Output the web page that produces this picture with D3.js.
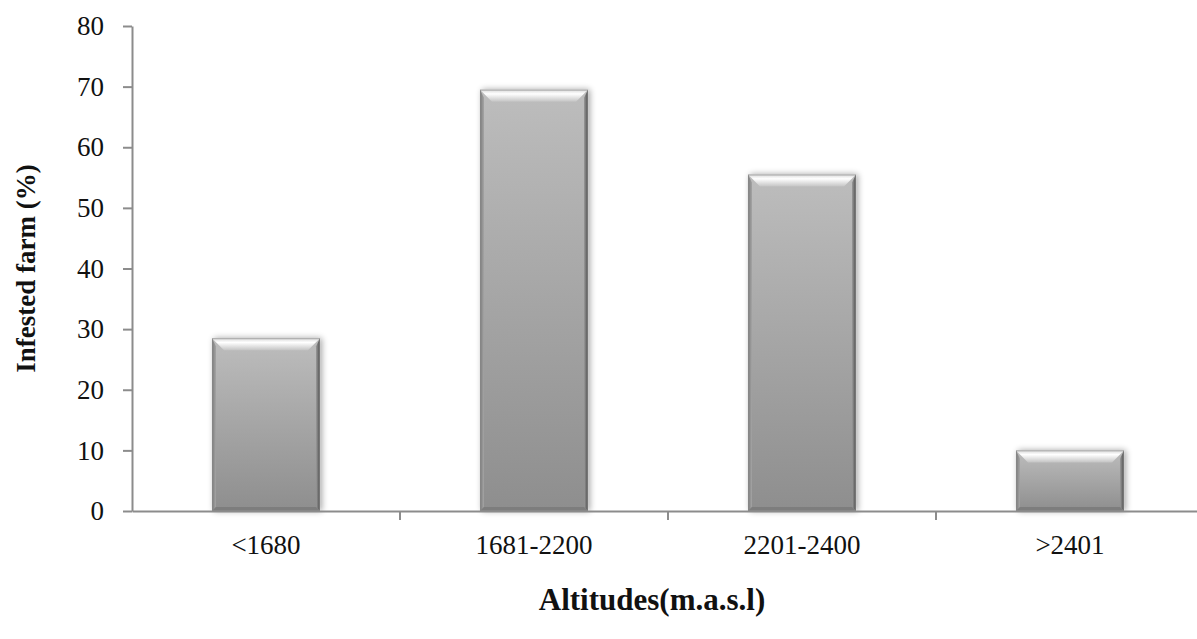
<!DOCTYPE html>
<html>
<head>
<meta charset="utf-8">
<script src="https://cdn.jsdelivr.net/npm/d3@7"></script>
<style>
  html, body { margin: 0; padding: 0; background: #fff; }
  svg { display: block; }
</style>
</head>
<body>
<svg id="chart" width="1197" height="639"></svg>
<script>
const categories = ["<1680", "1681-2200", "2201-2400", ">2401"];
const values = [28.5, 69.5, 55.5, 10.0];
const yTicks = [0, 10, 20, 30, 40, 50, 60, 70, 80];
const yTitle = "Infested farm (%)";
const xTitle = "Altitudes(m.a.s.l)";

const svg = d3.select("#chart");
const margin = {left: 132, top: 26, bottom: 511, right: 1204};
const serif = "'Liberation Serif', 'Times New Roman', serif";

const x = d3.scaleBand().domain(categories).range([margin.left, margin.right])
  .paddingInner(0.597).paddingOuter(0.2985);
const y = d3.scaleLinear().domain([0, 80]).range([margin.bottom, margin.top]);

const defs = svg.append("defs");
const grad = defs.append("linearGradient").attr("id", "barGrad").attr("x1", 0).attr("y1", 0).attr("x2", 0).attr("y2", 1);
grad.append("stop").attr("offset", "0%").attr("stop-color", "#bdbdbd");
grad.append("stop").attr("offset", "100%").attr("stop-color", "#8e8e8e");
const topGrad = defs.append("linearGradient").attr("id", "topGrad").attr("x1", 0).attr("y1", 0).attr("x2", 0).attr("y2", 1);
topGrad.append("stop").attr("offset", "0%").attr("stop-color", "#d8d8d8");
topGrad.append("stop").attr("offset", "35%").attr("stop-color", "#ffffff");
topGrad.append("stop").attr("offset", "100%").attr("stop-color", "#c4c4c4");
const leftGrad = defs.append("linearGradient").attr("id", "leftGrad").attr("x1", 0).attr("y1", 0).attr("x2", 1).attr("y2", 0);
leftGrad.append("stop").attr("offset", "0%").attr("stop-color", "#7a7a7a");
leftGrad.append("stop").attr("offset", "100%").attr("stop-color", "#a5a5a5");
const rightGrad = defs.append("linearGradient").attr("id", "rightGrad").attr("x1", 0).attr("y1", 0).attr("x2", 1).attr("y2", 0);
rightGrad.append("stop").attr("offset", "0%").attr("stop-color", "#9a9a9a");
rightGrad.append("stop").attr("offset", "100%").attr("stop-color", "#4e4e4e");
const shadow = defs.append("filter").attr("id", "shadow").attr("x", "-20%").attr("y", "-20%").attr("width", "140%").attr("height", "140%");
shadow.append("feGaussianBlur").attr("in", "SourceAlpha").attr("stdDeviation", 3).attr("result", "blur");
shadow.append("feOffset").attr("in", "blur").attr("dx", 2).attr("dy", 0).attr("result", "off");
shadow.append("feComponentTransfer").attr("in", "off").attr("result", "soft")
  .append("feFuncA").attr("type", "linear").attr("slope", 0.35);
const merge = shadow.append("feMerge");
merge.append("feMergeNode").attr("in", "soft");
merge.append("feMergeNode").attr("in", "SourceGraphic");

// bars
const bw = x.bandwidth();
const bev = 12, side = 4;
const bars = svg.append("g").selectAll("g").data(categories).join("g")
  .attr("filter", "url(#shadow)");
bars.append("rect")
  .attr("x", d => x(d)).attr("y", (d, i) => y(values[i]))
  .attr("width", bw).attr("height", (d, i) => y(0) - y(values[i]))
  .attr("fill", "url(#barGrad)");
bars.append("path").attr("fill", "url(#topGrad)").attr("d", (d, i) => {
  const x0 = x(d), x1 = x0 + bw, y0 = y(values[i]);
  return `M${x0},${y0}L${x1},${y0}L${x1 - bev},${y0 + bev}L${x0 + bev},${y0 + bev}Z`;
});
bars.append("path").attr("fill", "url(#leftGrad)").attr("d", (d, i) => {
  const x0 = x(d), y0 = y(values[i]), yb = y(0);
  return `M${x0},${y0}L${x0 + side},${y0 + side * 2}L${x0 + side},${yb - side}L${x0},${yb}Z`;
});
bars.append("path").attr("fill", "url(#rightGrad)").attr("d", (d, i) => {
  const x1 = x(d) + bw, y0 = y(values[i]), yb = y(0);
  return `M${x1},${y0}L${x1 - side},${y0 + side * 2}L${x1 - side},${yb - side}L${x1},${yb}Z`;
});
bars.append("path").attr("fill", "#7d7d7d").attr("d", (d, i) => {
  const x0 = x(d), x1 = x0 + bw, yb = y(0);
  return `M${x0},${yb}L${x0 + side},${yb - side}L${x1 - side},${yb - side}L${x1},${yb}Z`;
});
bars.append("rect")
  .attr("x", d => x(d) + 0.5).attr("y", (d, i) => y(values[i]) + 0.5)
  .attr("width", bw - 1).attr("height", (d, i) => y(0) - y(values[i]) - 1)
  .attr("fill", "none").attr("stroke", "#8a8a8a").attr("stroke-width", 1).attr("stroke-opacity", 0.6);

// y axis
const yAxis = d3.axisLeft(y).tickValues(yTicks).tickSize(9).tickPadding(19).tickSizeOuter(0);
const gy = svg.append("g").attr("transform", `translate(${margin.left},0)`).call(yAxis);
gy.select(".domain").attr("stroke", "#8c8c8c").attr("stroke-width", 2);
gy.selectAll(".tick line").attr("stroke", "#8c8c8c").attr("stroke-width", 2);
gy.selectAll(".tick text").attr("font-family", serif)
  .attr("font-size", 27).attr("fill", "#111");

// x axis
const xAxis = d3.axisBottom(x).tickSize(0).tickPadding(24);
const gx = svg.append("g").attr("transform", `translate(0,${y(0)})`).call(xAxis);
gx.select(".domain").attr("stroke", "#8c8c8c").attr("stroke-width", 2);
gx.selectAll(".tick text").attr("font-family", serif)
  .attr("font-size", 27).attr("fill", "#111");
gx.selectAll("line.sep").data(categories.slice(1)).join("line").attr("class", "sep")
  .attr("x1", d => x(d) - (x.step() - bw) / 2).attr("x2", d => x(d) - (x.step() - bw) / 2)
  .attr("y1", 0).attr("y2", 9).attr("stroke", "#8c8c8c").attr("stroke-width", 2);

// titles
svg.append("text").attr("transform", `translate(35,${(y(0) + y(80)) / 2}) rotate(-90)`)
  .attr("text-anchor", "middle").attr("font-family", serif)
  .attr("font-weight", "bold").attr("font-size", 27).attr("fill", "#111").text(yTitle);
svg.append("text").attr("x", 652).attr("y", 610)
  .attr("text-anchor", "middle").attr("font-family", serif)
  .attr("font-weight", "bold").attr("font-size", 31)
  .attr("fill", "#111").text(xTitle);
</script>
</body>
</html>
